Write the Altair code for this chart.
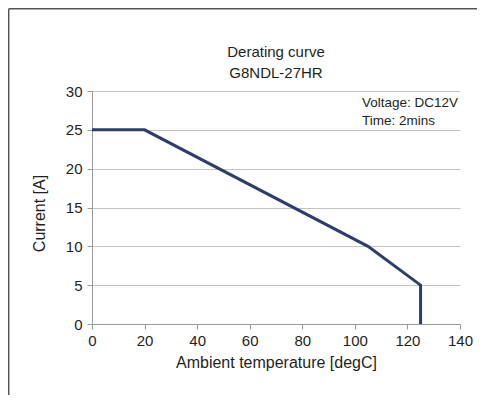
import altair as alt
import pandas as pd

temps = [0, 20, 105, 125, 125]
currents = [25, 25, 10, 5, 0]
order = [0, 1, 2, 3, 4]

title_lines = ["Derating curve", "G8NDL-27HR"]
notes = ["Voltage: DC12V", "Time: 2mins"]

W, H = 368, 233
FONT = "Liberation Sans"
TXT = "#231f20"

df = pd.DataFrame({"t": temps, "c": currents, "o": order})

line = alt.Chart(df).mark_line(color="#2d3e6c", strokeWidth=3, clip=False).encode(
    x=alt.X("t:Q", scale=alt.Scale(domain=[0, 140], nice=False),
            axis=alt.Axis(values=[0, 20, 40, 60, 80, 100, 120, 140], grid=False,
                          title="Ambient temperature [degC]", tickSize=5,
                          labelPadding=4, titlePadding=6)),
    y=alt.Y("c:Q", scale=alt.Scale(domain=[0, 30], nice=False),
            axis=alt.Axis(values=[0, 5, 10, 15, 20, 25, 30], grid=True,
                          title="Current [A]", tickSize=5, labelPadding=5,
                          titlePadding=18, titleY=122)),
    order="o:Q",
)

t1 = alt.Chart(pd.DataFrame({"s": [title_lines[0]]})).mark_text(
    font=FONT, fontSize=15, color=TXT, baseline="middle", align="center"
).encode(text="s:N", x=alt.value(W / 2), y=alt.value(-39))
t2 = alt.Chart(pd.DataFrame({"s": [title_lines[1]]})).mark_text(
    font=FONT, fontSize=15, color=TXT, baseline="middle", align="center"
).encode(text="s:N", x=alt.value(W / 2), y=alt.value(-18))

n1 = alt.Chart(pd.DataFrame({"s": [notes[0]]})).mark_text(
    font=FONT, fontSize=13.5, color=TXT, baseline="middle", align="left"
).encode(text="s:N", x=alt.value(270), y=alt.value(12))
n2 = alt.Chart(pd.DataFrame({"s": [notes[1]]})).mark_text(
    font=FONT, fontSize=13.5, color=TXT, baseline="middle", align="left"
).encode(text="s:N", x=alt.value(270), y=alt.value(30))

frame_top = alt.Chart(pd.DataFrame({"a": [0]})).mark_rule(
    color="#555555", strokeWidth=1.5, clip=False
).encode(x=alt.value(-83.3), x2=alt.value(W + 17), y=alt.value(-82.3))
frame_left = alt.Chart(pd.DataFrame({"a": [0]})).mark_rule(
    color="#555555", strokeWidth=1.5, clip=False
).encode(x=alt.value(-83.3), y=alt.value(-82.3), y2=alt.value(H + 71))

chart = alt.layer(frame_top, frame_left, line, t1, t2, n1, n2).properties(
    width=W, height=H,
    autosize=alt.AutoSizeParams(type="none"),
    padding={"left": 84, "top": 83, "right": 17, "bottom": 71},
).configure_view(stroke=None).configure_axis(
    labelFont=FONT, titleFont=FONT, labelFontSize=15, titleFontSize=16,
    labelColor=TXT, titleColor=TXT, titleFontWeight="normal",
    domainColor="#9a9a9a", tickColor="#9a9a9a", gridColor="#c4c4c4",
    domainWidth=1, tickWidth=1, gridWidth=1,
).configure_axisY(domain=True).configure_axisX(labelFlush=False)

chart.save("out.html", embed_options={"renderer": "svg", "actions": False})
